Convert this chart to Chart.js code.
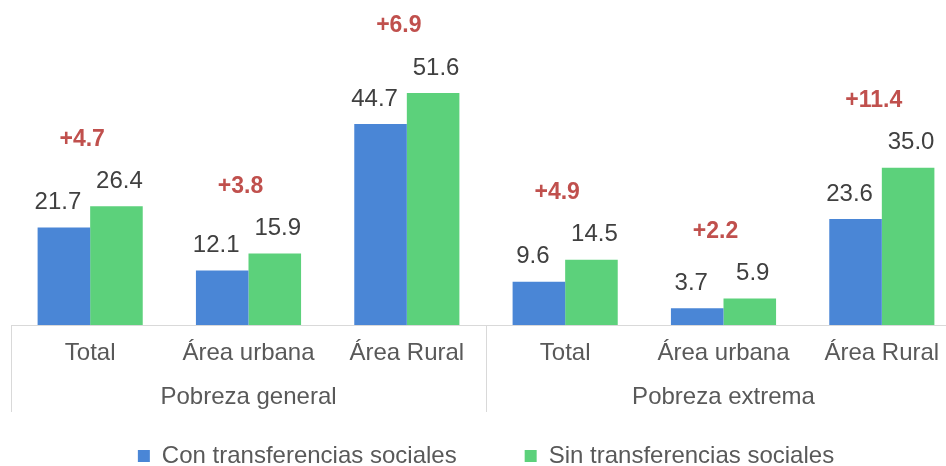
<!DOCTYPE html>
<html><head><meta charset="utf-8">
<script src="https://cdn.jsdelivr.net/npm/chart.js@4/dist/chart.umd.min.js"></script>
<style>
html,body{margin:0;padding:0;background:#fff;overflow:hidden}
#wrap{width:946px;height:466px;overflow:hidden;position:relative;background:#fff}
canvas{display:block}
</style></head><body>
<div id="wrap"><canvas id="c" width="961" height="478"></canvas></div>
<script>
const categorias = ['Total', 'Área urbana', 'Área Rural', 'Total', 'Área urbana', 'Área Rural'];
const grupos = ['Pobreza general', 'Pobreza extrema'];
const serieNombres = ['Con transferencias sociales', 'Sin transferencias sociales'];
const conTransferencias = [21.7, 12.1, 44.7, 9.6, 3.7, 23.6];
const sinTransferencias = [26.4, 15.9, 51.6, 14.5, 5.9, 35.0];
const diferencias = ['+4.7', '+3.8', '+6.9', '+4.9', '+2.2', '+11.4'];

const FONT = '"Liberation Sans", Arial, sans-serif';
const GRUPO_TAM = 3; // categories per group

const anotaciones = {
  id: 'anotaciones',
  afterDraw(chart) {
    const ctx = chart.ctx;
    const m0 = chart.getDatasetMeta(0), m1 = chart.getDatasetMeta(1);
    const xs = chart.scales.x;
    const ca = chart.chartArea;
    ctx.save();
    ctx.textAlign = 'center';
    ctx.textBaseline = 'middle';
    // value labels
    ctx.font = '24px ' + FONT;
    ctx.fillStyle = '#404040';
    m0.data.forEach((b, i) => ctx.fillText(conTransferencias[i].toFixed(1), b.x - 6, b.y - 25));
    m1.data.forEach((b, i) => ctx.fillText(sinTransferencias[i].toFixed(1), b.x + 3, b.y - 25));
    // difference labels
    ctx.font = 'bold 23px ' + FONT;
    ctx.fillStyle = '#C0504D';
    diferencias.forEach((d, i) => {
      const top = Math.min(m0.data[i].y, m1.data[i].y);
      ctx.fillText(d, xs.getPixelForValue(i) - 8, top - 67);
    });
    // group labels, centred under each group of categories
    ctx.font = '24px ' + FONT;
    ctx.fillStyle = '#595959';
    grupos.forEach((g, k) => {
      const a = xs.getPixelForValue(k * GRUPO_TAM);
      const b = xs.getPixelForValue(k * GRUPO_TAM + GRUPO_TAM - 1);
      ctx.fillText(g, (a + b) / 2, 397);
    });
    // group separators
    ctx.strokeStyle = '#d9d9d9';
    ctx.lineWidth = 1;
    const seps = [xs.left];
    for (let k = 1; k < grupos.length; k++) {
      seps.push((xs.getPixelForValue(k * GRUPO_TAM - 1) + xs.getPixelForValue(k * GRUPO_TAM)) / 2);
    }
    seps.push(xs.right);
    seps.forEach(x => {
      const px = Math.round(x) + 0.5;
      ctx.beginPath();
      ctx.moveTo(px, ca.bottom);
      ctx.lineTo(px, 412);
      ctx.stroke();
    });
    ctx.restore();
  }
};

new Chart(document.getElementById('c'), {
  type: 'bar',
  data: {
    labels: categorias,
    datasets: [
      { label: serieNombres[0], data: conTransferencias, backgroundColor: '#4A86D6', borderWidth: 0 },
      { label: serieNombres[1], data: sinTransferencias, backgroundColor: '#5CD17B', borderWidth: 0 }
    ]
  },
  options: {
    responsive: false,
    animation: false,
    layout: { padding: { left: 11, right: 0, top: 0, bottom: 0 } },
    datasets: { bar: { categoryPercentage: 0.664, barPercentage: 1 } },
    scales: {
      x: {
        grid: { display: false, drawTicks: false },
        border: { display: true, color: '#d9d9d9', width: 1 },
        ticks: {
          autoSkip: false, maxRotation: 0, padding: 6, color: '#595959',
          font: { family: FONT, size: 24, lineHeight: 1.8333 }
        },
        afterFit: s => { s.height = 51; }
      },
      y: { display: false, min: 0, max: 72.3 }
    },
    plugins: {
      legend: {
        position: 'bottom',
        labels: {
          boxWidth: 12, boxHeight: 12, padding: 68, color: '#595959',
          font: { family: FONT, size: 24 }
        }
      },
      tooltip: { enabled: false }
    }
  },
  plugins: [anotaciones]
});
</script>
</body></html>
